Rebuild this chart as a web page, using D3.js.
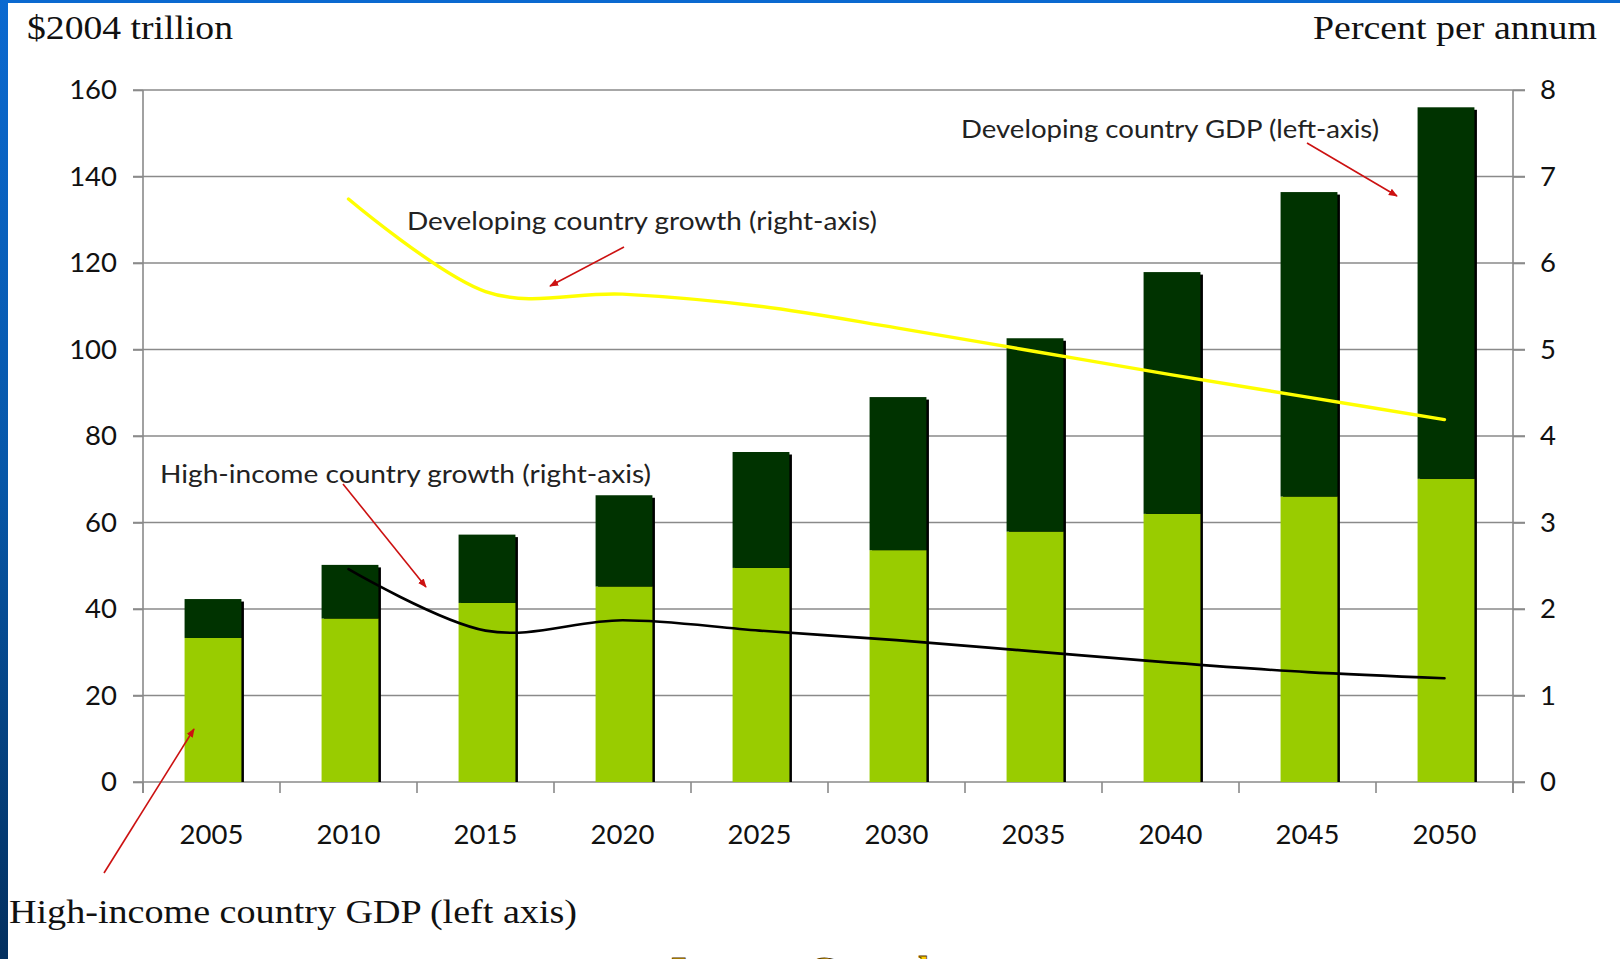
<!DOCTYPE html>
<html>
<head>
<meta charset="utf-8">
<script src="https://cdn.jsdelivr.net/npm/d3@7"></script>
<style>
  html, body { margin: 0; padding: 0; background: #ffffff; overflow: hidden; }
  svg { display: block; }
</style>
</head>
<body>
<svg id="chart" width="1620" height="959"></svg>
<script>
// ---- data -------------------------------------------------------------
const years = ["2005", "2010", "2015", "2020", "2025", "2030", "2035", "2040", "2045", "2050"];
// GDP, $2004 trillion (left axis)
const highIncomeGDP = [33.3, 37.8, 41.4, 45.2, 49.5, 53.6, 57.9, 62.0, 66.0, 70.1];
const developingGDP = [9.0, 12.4, 15.8, 21.1, 26.8, 35.4, 44.7, 55.9, 70.4, 85.9];
// growth, percent per annum (right axis), 2010 onwards
const growthYears = ["2010", "2015", "2020", "2025", "2030", "2035", "2040", "2045", "2050"];
const developingGrowth = [6.74, 5.67, 5.64, 5.50, 5.25, 4.98, 4.71, 4.45, 4.19];
const highIncomeGrowth = [2.46, 1.75, 1.87, 1.75, 1.64, 1.51, 1.38, 1.27, 1.20];
const leftTicks = [0, 20, 40, 60, 80, 100, 120, 140, 160];
const rightTicks = [0, 1, 2, 3, 4, 5, 6, 7, 8];

// ---- layout -----------------------------------------------------------
const svg = d3.select("#chart");
const L = 143, R = 1513, T = 90, B = 782;
const sans = "Lato, 'Open Sans', sans-serif";
const serif = "'Liberation Serif', 'DejaVu Serif', serif";

const x = d3.scaleBand().domain(years).range([L, R]).paddingInner(0.585).paddingOuter(0.2925);
const cell = d3.scaleLinear().domain([0, years.length]).range([L, R]);
const yL = d3.scaleLinear().domain([0, 160]).range([B, T]);
const yR = d3.scaleLinear().domain([0, 8]).range([B, T]);
const barShift = 1.5;
const cx = d => x(d) + x.bandwidth() / 2;

// slide frame: blue strip on the left and top
const defs = svg.append("defs");
const grad = defs.append("linearGradient").attr("id", "frameBlue")
  .attr("x1", 0).attr("y1", 0).attr("x2", 0).attr("y2", 1);
grad.append("stop").attr("offset", 0).attr("stop-color", "#0b69d0");
grad.append("stop").attr("offset", 0.5).attr("stop-color", "#0757a8");
grad.append("stop").attr("offset", 1).attr("stop-color", "#03305f");
svg.append("rect").attr("x", 0).attr("y", 0).attr("width", 1620).attr("height", 3).attr("fill", "#0b69d0");
svg.append("rect").attr("x", 0).attr("y", 0).attr("width", 8).attr("height", 959).attr("fill", "url(#frameBlue)");

defs.append("marker").attr("id", "redArrow")
  .attr("viewBox", "0 0 10 10").attr("refX", 9).attr("refY", 5)
  .attr("markerWidth", 9).attr("markerHeight", 9).attr("orient", "auto")
  .attr("markerUnits", "userSpaceOnUse")
  .append("path").attr("d", "M0,1 L10,5 L0,9 Z").attr("fill", "#cc1111");

// ---- gridlines & axes -------------------------------------------------
const gridCol = "#8a8a8a";
svg.append("g").selectAll("line").data(leftTicks).join("line")
  .attr("x1", L - 10).attr("x2", R + 12)
  .attr("y1", d => yL(d)).attr("y2", d => yL(d))
  .attr("stroke", gridCol).attr("stroke-width", 1.6);

const leftAxis = svg.append("g").attr("transform", `translate(${L},0)`)
  .call(d3.axisLeft(yL).tickValues(leftTicks).tickSize(10).tickPadding(16));
const rightAxis = svg.append("g").attr("transform", `translate(${R},0)`)
  .call(d3.axisRight(yR).tickValues(rightTicks).tickSize(12).tickPadding(15));
[leftAxis, rightAxis].forEach(g => {
  g.select(".domain").remove();
  g.selectAll(".tick line").attr("stroke", gridCol).attr("stroke-width", 1.6);
  g.selectAll("text").attr("font-family", sans).attr("font-size", 27.5).attr("fill", "#111");
});
// vertical axis lines run past the baseline like the category ticks
[L, R].forEach(px => svg.append("line").attr("x1", px).attr("x2", px)
  .attr("y1", T).attr("y2", B + 11).attr("stroke", gridCol).attr("stroke-width", 1.6));

// category boundary ticks
svg.append("g").selectAll("line").data(d3.range(years.length + 1)).join("line")
  .attr("x1", d => cell(d)).attr("x2", d => cell(d))
  .attr("y1", B).attr("y2", B + 11)
  .attr("stroke", gridCol).attr("stroke-width", 1.6);

const bottomAxis = svg.append("g").attr("transform", `translate(0,${B})`)
  .call(d3.axisBottom(x).tickSize(0).tickPadding(42));
bottomAxis.select(".domain").remove();
bottomAxis.selectAll("text").attr("font-family", sans).attr("font-size", 27.5).attr("fill", "#111");

// ---- stacked bars -----------------------------------------------------
const stacked = years.map((yr, i) => ({
  year: yr,
  segs: [
    { y0: 0, y1: highIncomeGDP[i], fill: "#99cc00" },
    { y0: highIncomeGDP[i], y1: highIncomeGDP[i] + developingGDP[i], fill: "#003300" }
  ]
}));
const bars = svg.append("g").attr("transform", `translate(${barShift},0)`);
// drop shadow on the right side of each column
bars.selectAll("rect.shadow").data(stacked).join("rect").attr("class", "shadow")
  .attr("x", d => x(d.year) + 2.5)
  .attr("y", d => yL(d.segs[1].y1) + 2.5)
  .attr("width", x.bandwidth())
  .attr("height", d => B - yL(d.segs[1].y1) - 2.5)
  .attr("fill", "#000");
bars.selectAll("g.col").data(stacked).join("g").attr("class", "col")
  .selectAll("rect").data(d => d.segs.map(s => ({ ...s, year: d.year }))).join("rect")
  .attr("x", d => x(d.year))
  .attr("y", d => yL(d.y1))
  .attr("width", x.bandwidth())
  .attr("height", d => yL(d.y0) - yL(d.y1))
  .attr("fill", d => d.fill);

// ---- growth lines (right axis) -----------------------------------------
const line = d3.line().curve(d3.curveCardinal.tension(0))
  .x(d => cx(d[0])).y(d => yR(d[1]));
svg.append("path").datum(growthYears.map((g, i) => [g, developingGrowth[i]]))
  .attr("d", line).attr("fill", "none").attr("stroke", "#ffff00")
  .attr("stroke-width", 3.4).attr("stroke-linecap", "round");
svg.append("path").datum(growthYears.map((g, i) => [g, highIncomeGrowth[i]]))
  .attr("d", line).attr("fill", "none").attr("stroke", "#000")
  .attr("stroke-width", 2.6).attr("stroke-linecap", "round");

// ---- titles & annotations ----------------------------------------------
svg.append("text").attr("x", 27).attr("y", 39)
  .attr("font-family", serif).attr("font-size", 33).attr("fill", "#111")
  .attr("textLength", 206).attr("lengthAdjust", "spacingAndGlyphs")
  .text("$2004 trillion");
svg.append("text").attr("x", 1313).attr("y", 39)
  .attr("font-family", serif).attr("font-size", 33).attr("fill", "#111")
  .attr("textLength", 284).attr("lengthAdjust", "spacingAndGlyphs")
  .text("Percent per annum");
svg.append("text").attr("x", 9).attr("y", 923)
  .attr("font-family", serif).attr("font-size", 33).attr("fill", "#111")
  .attr("textLength", 568).attr("lengthAdjust", "spacingAndGlyphs")
  .text("High-income country GDP (left axis)");

const notes = [
  { text: "Developing country GDP (left-axis)", x: 961, y: 138, w: 418 },
  { text: "Developing country growth (right-axis)", x: 407, y: 230, w: 470 },
  { text: "High-income country growth (right-axis)", x: 160, y: 483, w: 491 }
];
svg.append("g").selectAll("text").data(notes).join("text")
  .attr("x", d => d.x).attr("y", d => d.y)
  .attr("font-family", sans).attr("font-size", 25).attr("fill", "#222")
  .attr("textLength", d => d.w).attr("lengthAdjust", "spacingAndGlyphs")
  .text(d => d.text);

const arrows = [
  [1307, 143, 1397, 196],
  [624, 247, 550, 286],
  [343, 484, 426, 587],
  [104, 873, 194, 729]
];
svg.append("g").selectAll("line").data(arrows).join("line")
  .attr("x1", d => d[0]).attr("y1", d => d[1]).attr("x2", d => d[2]).attr("y2", d => d[3])
  .attr("stroke", "#cc1111").attr("stroke-width", 1.6)
  .attr("marker-end", "url(#redArrow)");

// slide heading continuing below the visible area
svg.append("text").attr("x", 671).attr("y", 984)
  .attr("font-family", serif).attr("font-size", 40).attr("font-weight", "bold")
  .attr("fill", "#ffcc00").attr("stroke", "#5a3a00").attr("stroke-width", 0.8)
  .text("Income Growth");
</script>
</body>
</html>
